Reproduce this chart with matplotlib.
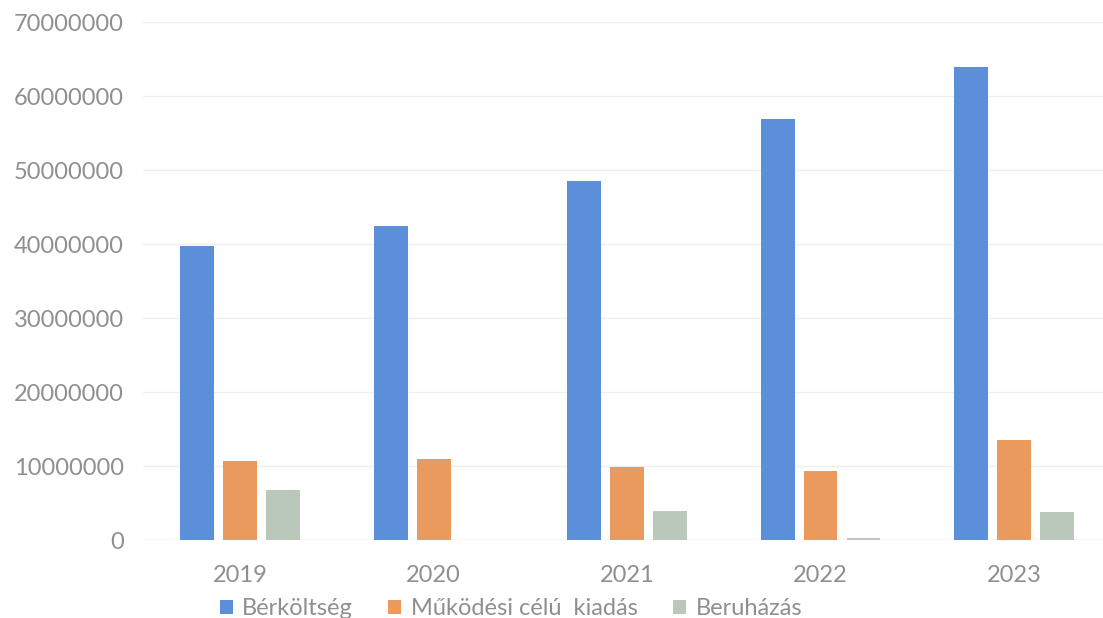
import matplotlib.pyplot as plt
import numpy as np

evek = ['2019', '2020', '2021', '2022', '2023']
berkoltseg = [39700000, 42400000, 48600000, 56900000, 64000000]
mukodesi = [10700000, 10900000, 9900000, 9300000, 13600000]
beruhazas = [6800000, 0, 3900000, 300000, 3800000]
sorozatok = ['Bérköltség', 'Működési célú  kiadás', 'Beruházás']


def main():
    plt.rcParams['font.family'] = ['Lato', 'DejaVu Sans']
    szurke = '#8f8f8f'

    fig = plt.figure(figsize=(11.03, 6.18), dpi=100)
    ax = fig.add_axes([0.130, 0.126, 0.877, 0.838])

    x = np.arange(len(evek))
    w = 0.175
    d = 0.222
    ax.bar(x - d, berkoltseg, w, color='#5b8fd9', label=sorozatok[0], zorder=3)
    ax.bar(x, mukodesi, w, color='#e99a5c', label=sorozatok[1], zorder=3)
    ax.bar(x + d, beruhazas, w, color='#b9c8b9', label=sorozatok[2], zorder=3)

    ax.set_xlim(-0.5, 4.5)
    ax.set_ylim(0, 70000000)
    ax.set_yticks(np.arange(0, 70000001, 10000000))
    ax.set_yticklabels([str(v) for v in range(0, 70000001, 10000000)])
    ax.set_xticks(x)
    ax.set_xticklabels(evek)
    ax.tick_params(axis='both', length=0, labelsize=17, colors=szurke)
    ax.tick_params(axis='x', pad=18)
    ax.tick_params(axis='y', pad=14)
    ax.grid(axis='y', color='#efefef', linewidth=1, zorder=0)
    for s in ax.spines.values():
        s.set_visible(False)
    ax.axhline(0, color='#e6e6e6', linewidth=1, zorder=1)

    leg = ax.legend(loc='center', bbox_to_anchor=(0.38, -0.132), ncol=3, frameon=False,
                    fontsize=17, handlelength=0.55, handleheight=0.55,
                    handletextpad=0.4, columnspacing=1.5)
    for t in leg.get_texts():
        t.set_color(szurke)

    fig.savefig('out.png', dpi=100, facecolor='white')


if __name__ == "__main__":
    main()
